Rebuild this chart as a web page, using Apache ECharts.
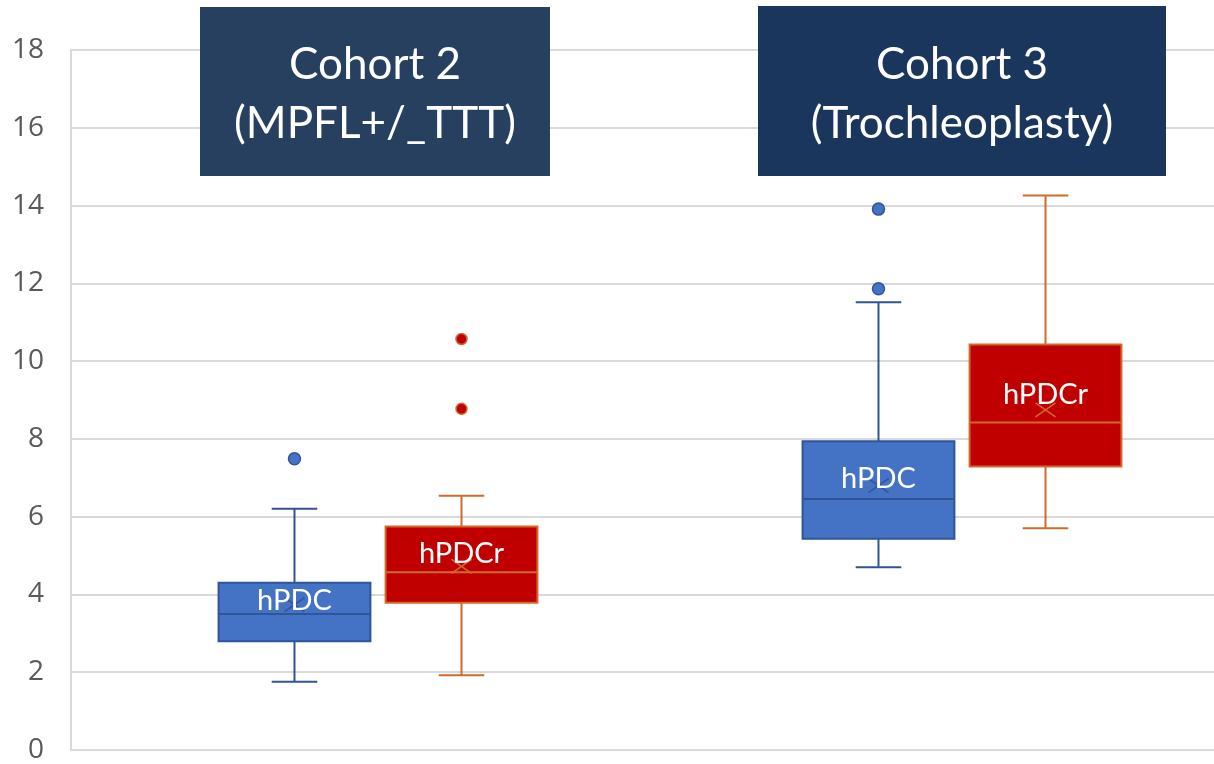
<!DOCTYPE html>
<html lang="en">
<head>
<meta charset="UTF-8">
<title>hPDC / hPDCr boxplot</title>
<style>
    html, body { margin: 0; padding: 0; background: #fff; }
    #chart { width: 1214px; height: 764px; }
</style>
</head>
<body>
<div id="chart"></div>
<script src="https://cdn.jsdelivr.net/npm/echarts@6/dist/echarts.min.js"></script>
<script>
    var cohorts = ['Cohort 2\n(MPFL+/_TTT)', 'Cohort 3\n(Trochleoplasty)'];
    // per cohort: [min, Q1, median, Q3, max, mean]
    var hpdcBox = [[1.80, 2.84, 3.54, 4.34, 6.24, 3.78], [4.74, 5.47, 6.49, 7.97, 11.53, 6.83]];
    var hpdcrBox = [[1.97, 3.83, 4.61, 5.78, 6.57, 4.76], [5.74, 7.32, 8.45, 10.45, 14.27, 8.77]];
    // outliers: [cohort index, value]
    var hpdcOut = [[0, 7.52], [1, 11.88], [1, 13.92]];
    var hpdcrOut = [[0, 8.80], [0, 10.59]];
    var yMin = 0, yMax = 18, yStep = 2;

    var BLUE = '#4472C4', BLUE_LINE = '#2F5597';
    var RED = '#C00000', RED_LINE = '#D06A2A';

    // box drawn through the category scale, shifted inside the band
    function boxRender(shift, fill, line, name) {
        return function (params, api) {
            var i = api.value(0);
            var band = api.size([1, 0])[0];
            var cx = api.coord([i, 0])[0] + shift * band;
            var w = band * 0.26, hw = w / 2, cap = w * 0.15;
            var y = function (k) { return api.coord([i, api.value(k)])[1]; };
            var lo = y(1), q1 = y(2), med = y(3), q3 = y(4), hi = y(5), mean = y(6);
            var ls = { stroke: line, lineWidth: 2 };
            return {
                type: 'group',
                children: [
                    { type: 'line', shape: { x1: cx, y1: hi, x2: cx, y2: q3 }, style: ls },
                    { type: 'line', shape: { x1: cx, y1: q1, x2: cx, y2: lo }, style: ls },
                    { type: 'line', shape: { x1: cx - cap, y1: hi, x2: cx + cap, y2: hi }, style: ls },
                    { type: 'line', shape: { x1: cx - cap, y1: lo, x2: cx + cap, y2: lo }, style: ls },
                    { type: 'rect', shape: { x: cx - hw, y: q3, width: w, height: q1 - q3 }, style: { fill: fill, stroke: line, lineWidth: 2 } },
                    { type: 'line', shape: { x1: cx - hw, y1: med, x2: cx + hw, y2: med }, style: ls },
                    { type: 'line', shape: { x1: cx - 10, y1: mean - 7, x2: cx + 10, y2: mean + 7 }, style: { stroke: line, lineWidth: 1.5 } },
                    { type: 'line', shape: { x1: cx - 10, y1: mean + 7, x2: cx + 10, y2: mean - 7 }, style: { stroke: line, lineWidth: 1.5 } },
                    {
                        type: 'text',
                        style: {
                            text: name, x: cx, y: (q1 + q3) / 2 - 11,
                            align: 'center', verticalAlign: 'middle',
                            fill: '#fff', fontSize: 29, fontFamily: 'Lato'
                        }
                    }
                ]
            };
        };
    }

    function outlierRender(shift, fill, line, r) {
        return function (params, api) {
            var i = api.value(0);
            var band = api.size([1, 0])[0];
            var p = api.coord([i, api.value(1)]);
            return {
                type: 'circle',
                shape: { cx: p[0] + shift * band, cy: p[1], r: r },
                style: { fill: fill, stroke: line, lineWidth: 1.5 }
            };
        };
    }

    function withIndex(rows) {
        return rows.map(function (r, i) { return [i].concat(r); });
    }

    var titleBoxes = [
        { x: 200, y: 7, w: 350, h: 169, color: '#27405F' },
        { x: 758, y: 6, w: 408, h: 170, color: '#1B365D' }
    ];
    var graphics = [];
    cohorts.forEach(function (c, i) {
        var b = titleBoxes[i];
        graphics.push({ type: 'rect', z: 100, shape: { x: b.x, y: b.y, width: b.w, height: b.h }, style: { fill: b.color } });
        graphics.push({
            type: 'text', z: 101, x: b.x + b.w / 2, y: b.y + b.h / 2 + 3,
            style: { text: c, align: 'center', verticalAlign: 'middle', fill: '#fff', fontSize: 44, fontFamily: 'Lato', lineHeight: 59 }
        });
    });

    var mChart = echarts.init(document.getElementById('chart'));
    var option = {
        animation: false,
        grid: [
            { left: 71, right: 0, top: 50, bottom: 12 },   // axis + gridlines
            { left: 86, width: 1168, top: 50, bottom: 12, outerBoundsMode: 'none' } // boxes
        ],
        xAxis: [
            { type: 'category', gridIndex: 0, data: cohorts, show: false },
            { type: 'category', gridIndex: 1, data: cohorts, show: false }
        ],
        yAxis: [
            {
                type: 'value', gridIndex: 0, min: yMin, max: yMax, interval: yStep,
                axisLine: { show: true, lineStyle: { color: '#D9D9D9', width: 2 } },
                axisTick: { show: false },
                axisLabel: { color: '#595959', fontSize: 28, fontFamily: 'Open Sans', margin: 27 },
                splitLine: { lineStyle: { color: '#D9D9D9', width: 2 } }
            },
            { type: 'value', gridIndex: 1, min: yMin, max: yMax, interval: yStep, show: false, splitLine: { show: false } }
        ],
        graphic: graphics,
        series: [
            {
                type: 'custom', name: 'hPDC', xAxisIndex: 1, yAxisIndex: 1,
                renderItem: boxRender(-0.143, BLUE, BLUE_LINE, 'hPDC'),
                encode: { x: 0, y: [1, 2, 3, 4, 5, 6] },
                data: withIndex(hpdcBox)
            },
            {
                type: 'custom', name: 'hPDCr', xAxisIndex: 1, yAxisIndex: 1,
                renderItem: boxRender(0.143, RED, RED_LINE, 'hPDCr'),
                encode: { x: 0, y: [1, 2, 3, 4, 5, 6] },
                data: withIndex(hpdcrBox)
            },
            {
                type: 'custom', name: 'hPDC outliers', xAxisIndex: 1, yAxisIndex: 1,
                renderItem: outlierRender(-0.143, BLUE, BLUE_LINE, 6),
                encode: { x: 0, y: 1 },
                data: hpdcOut
            },
            {
                type: 'custom', name: 'hPDCr outliers', xAxisIndex: 1, yAxisIndex: 1,
                renderItem: outlierRender(0.143, RED, RED_LINE, 5.5),
                encode: { x: 0, y: 1 },
                data: hpdcrOut
            }
        ]
    };
    mChart.setOption(option);
</script>
</body>
</html>
